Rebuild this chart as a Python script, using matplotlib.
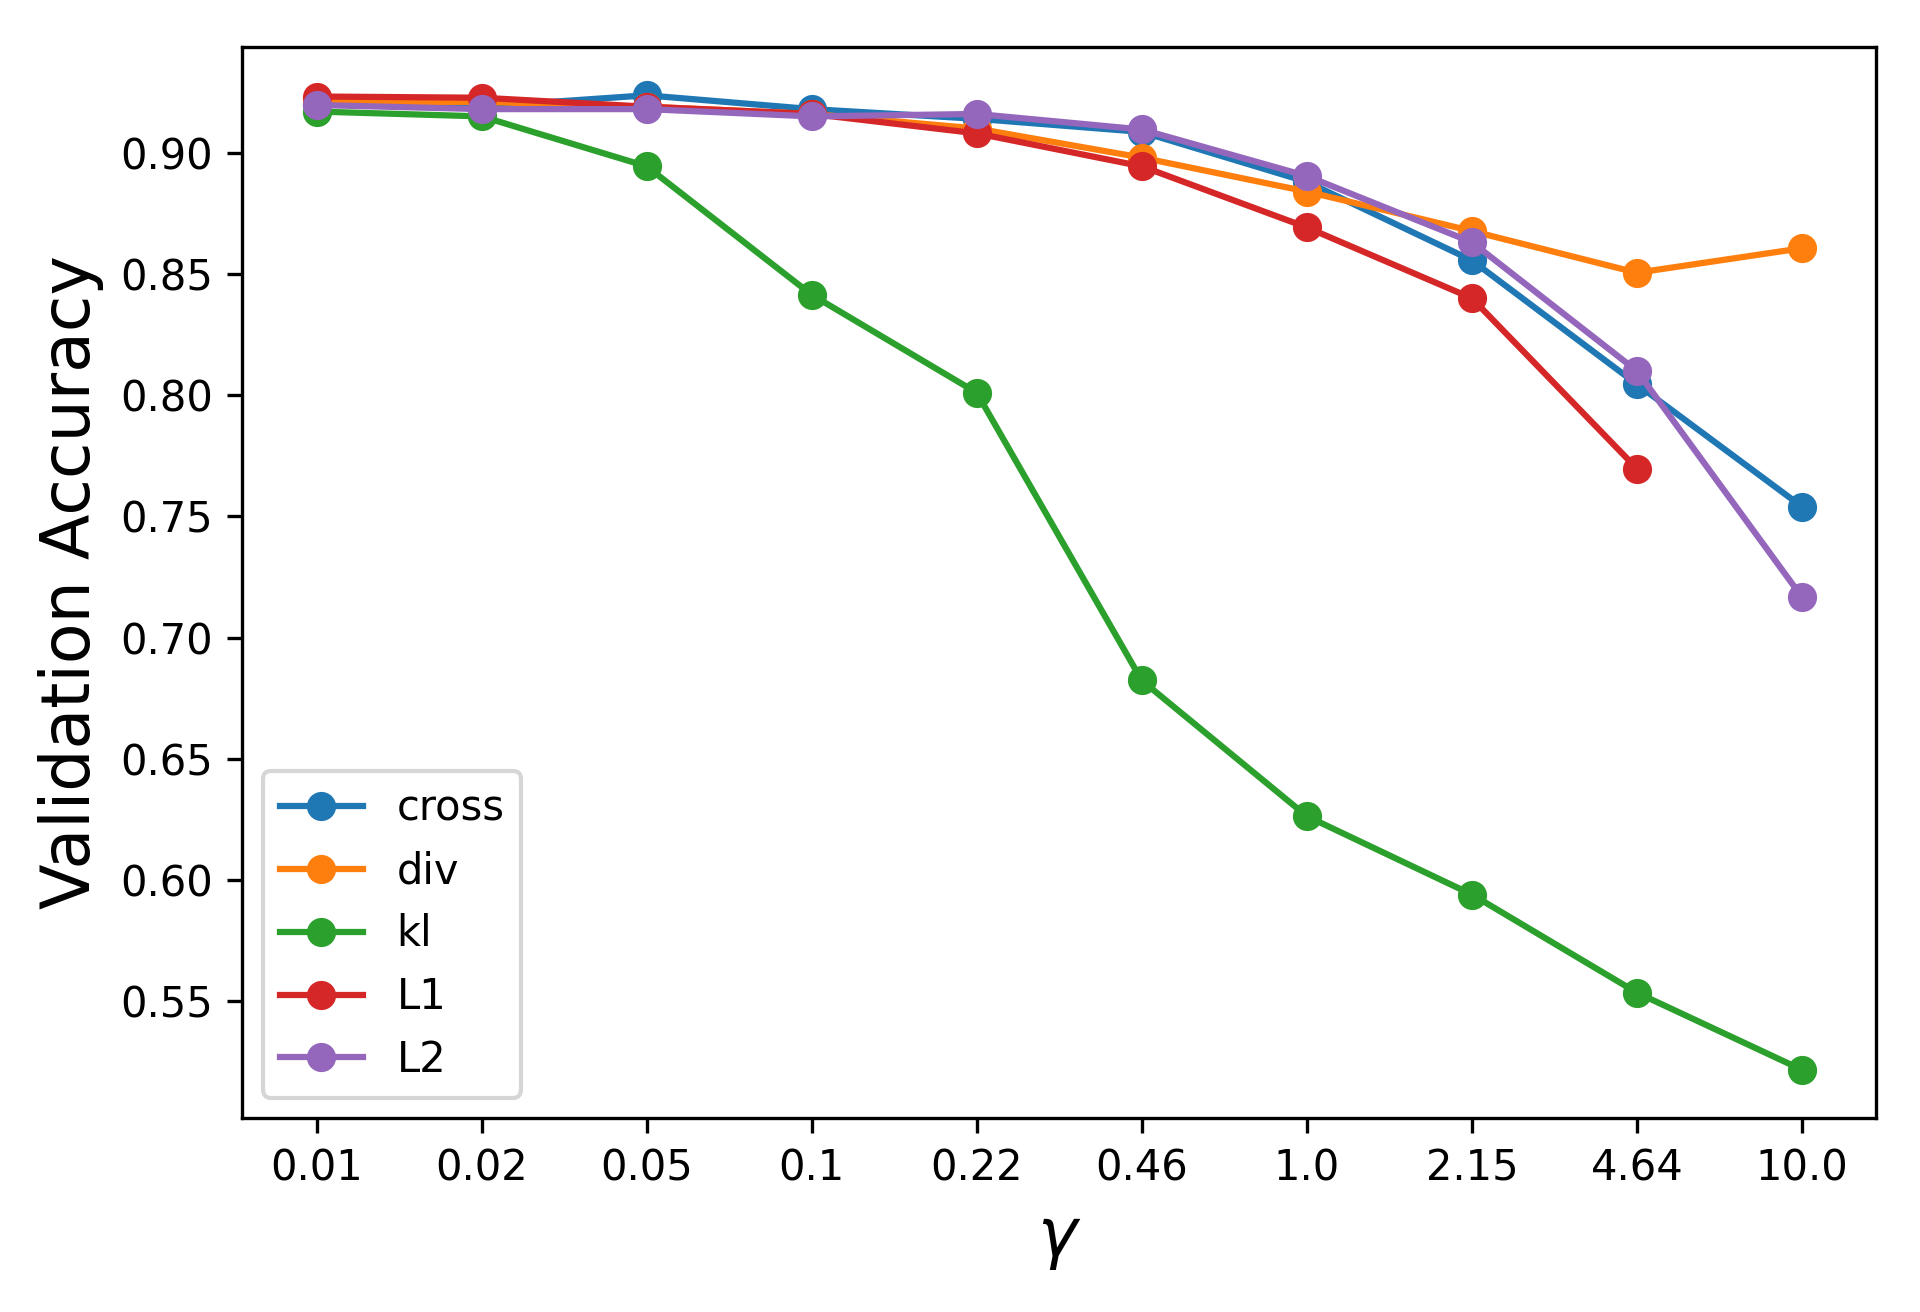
import numpy as np
import matplotlib.pyplot as plt

# gamma values (shown as categorical ticks)
gammas = ["0.01", "0.02", "0.05", "0.1", "0.22", "0.46", "1.0", "2.15", "4.64", "10.0"]

# validation accuracy per loss
cross = [0.920, 0.919, 0.9237, 0.918, 0.914, 0.9086, 0.888, 0.8556, 0.8045, 0.754]
div = [0.921, 0.921, 0.919, 0.916, 0.910, 0.898, 0.884, 0.8677, 0.8505, 0.8606]
kl = [0.917, 0.915, 0.8944, 0.8414, 0.801, 0.6823, 0.6263, 0.594, 0.5535, 0.5217]
L1 = [0.9232, 0.9227, 0.919, 0.916, 0.908, 0.8944, 0.8692, 0.840, 0.7697, np.nan]
L2 = [0.9197, 0.918, 0.918, 0.915, 0.916, 0.9096, 0.8904, 0.8631, 0.810, 0.7167]

series = {"cross": cross, "div": div, "kl": kl, "L1": L1, "L2": L2}

fig = plt.figure(figsize=(6.4, 1312 / 300))
ax = fig.add_axes([0.1262, 0.1475, 0.9772 - 0.1262, 0.9645 - 0.1475])

x = np.arange(len(gammas))
for name, vals in series.items():
    ax.plot(x, vals, marker="o", label=name)

ax.set_xticks(x)
ax.set_xticklabels(gammas)
ax.set_xlabel(r"$\gamma$", fontsize=16)
ax.set_ylabel("Validation Accuracy", fontsize=16)
ax.legend(loc="lower left", fontsize=10)

fig.savefig("out.png", dpi=300)
